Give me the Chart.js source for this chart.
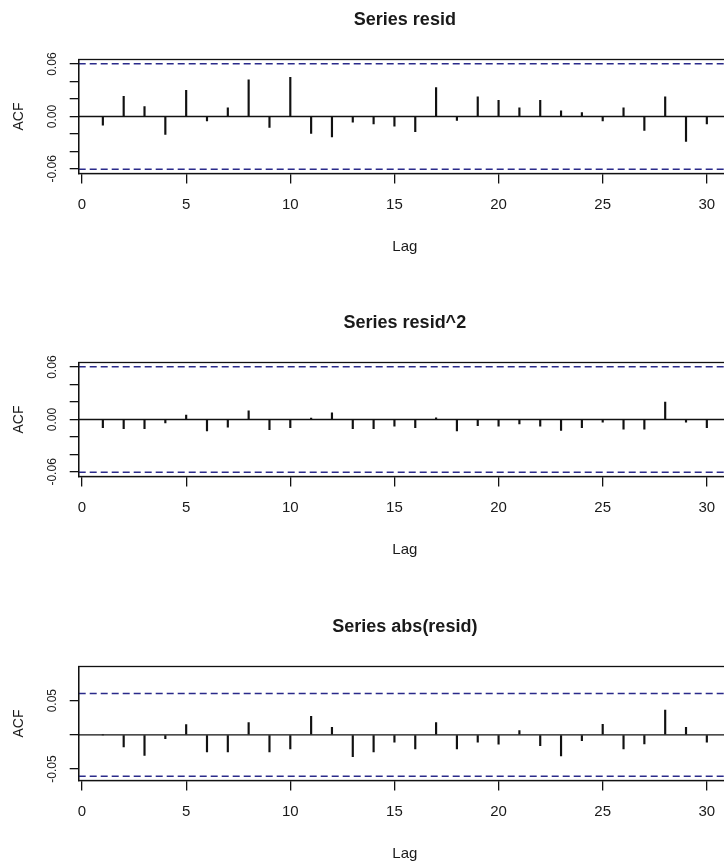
<!DOCTYPE html>
<html>
<head>
<meta charset="utf-8">
<script src="https://cdn.jsdelivr.net/npm/chart.js@4.4.1/dist/chart.umd.min.js"></script>
<style>
  html, body { margin: 0; padding: 0; background: #fff; width: 724px; height: 864px; overflow: hidden; }
  .panel { position: absolute; left: 0; }
</style>
</head>
<body>
<div class="panel" style="top:0px"><canvas id="acfResid" width="740" height="257"></canvas></div>
<div class="panel" style="top:303px"><canvas id="acfResidSq" width="740" height="257"></canvas></div>
<div class="panel" style="top:607px"><canvas id="acfAbsResid" width="740" height="257"></canvas></div>
<script>
// lags 1..30 (como TSA::acf, sin el lag 0)
const lags = [1, 2, 3, 4, 5, 6, 7, 8, 9, 10, 11, 12, 13, 14, 15,
              16, 17, 18, 19, 20, 21, 22, 23, 24, 25, 26, 27, 28, 29, 30];

const acfResid = [-0.010, 0.023, 0.0115, -0.0205, 0.030, -0.005, 0.010, 0.042, -0.0125, 0.045,
                  -0.0195, -0.0235, -0.0065, -0.0085, -0.011, -0.0175, 0.033, -0.0045, 0.0225, 0.0185,
                  0.010, 0.0185, 0.0065, 0.0045, -0.005, 0.010, -0.016, 0.0225, -0.0285, -0.0085];

const acfResidSq = [-0.0094, -0.0106, -0.0106, -0.004, 0.005, -0.013, -0.0087, 0.0098, -0.0117, -0.0094,
                    0.0015, 0.0075, -0.0106, -0.0106, -0.0075, -0.0094, 0.002, -0.013, -0.007, -0.0075,
                    -0.005, -0.0075, -0.0125, -0.0094, -0.003, -0.011, -0.011, 0.020, -0.003, -0.0094];

const acfAbsResid = [0, -0.0176, -0.030, -0.0054, 0.0151, -0.025, -0.025, 0.018, -0.025, -0.0205,
                     0.0273, 0.0112, -0.0317, -0.025, -0.0107, -0.0205, 0.018, -0.0205, -0.0107, -0.0137,
                     0.0063, -0.0156, -0.0307, -0.0083, 0.0156, -0.0205, -0.0132, 0.0361, 0.0112, -0.0107];

// banda de confianza 1.96/sqrt(n)
const ciBound = 0.0605;

const xTicks = [0, 5, 10, 15, 20, 25, 30];
const xRange = [-0.16, 31.16];

const yTicksSmall = [-0.06, -0.04, -0.02, 0, 0.02, 0.04, 0.06];
const yLabelsSmall = [-0.06, 0, 0.06];
const yTicksAbs = [-0.05, 0, 0.05];
const yLabelsAbs = [-0.05, 0.05];

const narrow = "'Liberation Sans Narrow', 'Arial Narrow', 'Liberation Sans', sans-serif";
const ink = '#1a1a1a';

// marco completo alrededor del área del gráfico (box() de R)
const boxPlugin = {
    id: 'rBox',
    afterDatasetsDraw(chart) {
        const { ctx, chartArea: a } = chart;
        ctx.save();
        ctx.strokeStyle = '#111';
        ctx.lineWidth = 1.3;
        ctx.strokeRect(a.left, a.top, a.right - a.left, a.bottom - a.top);
        ctx.restore();
    }
};

// etiquetas del eje y giradas, como en R
const yLabelPlugin = {
    id: 'rYLabels',
    afterDraw(chart, args, opts) {
        const ctx = chart.ctx;
        const yScale = chart.scales.y;
        ctx.save();
        ctx.fillStyle = ink;
        ctx.font = '12px ' + narrow;
        ctx.textAlign = 'center';
        ctx.textBaseline = 'middle';
        opts.values.forEach(v => {
            ctx.save();
            ctx.translate(opts.x, yScale.getPixelForValue(v));
            ctx.rotate(-Math.PI / 2);
            ctx.fillText(v.toFixed(2), 0, 0);
            ctx.restore();
        });
        ctx.restore();
    }
};

function hLine(yValue) {
    return xRange.map(x => ({ x: x, y: yValue }));
}

function drawAcf(canvasId, titleText, values, yMin, yMax, yTicks, yLabels) {
    const ctx = document.getElementById(canvasId).getContext('2d');

    return new Chart(ctx, {
        type: 'bar',
        data: {
            datasets: [
                {
                    type: 'bar',
                    data: lags.map((l, i) => ({ x: l, y: values[i] })),
                    backgroundColor: '#111',
                    barThickness: 1.5,
                    order: 1
                },
                {
                    type: 'line',
                    data: hLine(0),
                    borderColor: '#111',
                    borderWidth: 1.3,
                    pointRadius: 0,
                    order: 2
                },
                {
                    type: 'line',
                    data: hLine(ciBound),
                    borderColor: '#2a2a8a',
                    borderWidth: 1.5,
                    borderDash: [7, 4],
                    pointRadius: 0,
                    order: 3
                },
                {
                    type: 'line',
                    data: hLine(-ciBound),
                    borderColor: '#2a2a8a',
                    borderWidth: 1.5,
                    borderDash: [7, 4],
                    pointRadius: 0,
                    order: 3
                }
            ]
        },
        options: {
            responsive: false,
            animation: false,
            devicePixelRatio: 1,
            layout: { padding: { left: 0, right: 9, top: 0, bottom: 0 } },
            plugins: {
                legend: { display: false },
                tooltip: { enabled: false },
                title: {
                    display: true,
                    fullSize: false,
                    text: titleText,
                    color: ink,
                    font: { family: narrow, size: 18, weight: 'bold' },
                    padding: { top: 9, bottom: 28.9 }
                },
                rYLabels: { values: yLabels, x: 53 }
            },
            scales: {
                x: {
                    type: 'linear',
                    min: xRange[0],
                    max: xRange[1],
                    offset: false,
                    afterBuildTicks: s => { s.ticks = xTicks.map(v => ({ value: v })); },
                    afterFit: s => { s.height = 83.5; },
                    grid: { drawOnChartArea: false, drawTicks: true, tickLength: 10, color: '#111', lineWidth: 1.3, offset: false },
                    border: { display: true, color: '#111', width: 1.3 },
                    ticks: {
                        autoSkip: false,
                        maxRotation: 0,
                        padding: 12.5,
                        color: ink,
                        font: { family: narrow, size: 15 },
                        callback: v => String(v)
                    },
                    title: {
                        display: true,
                        text: 'Lag',
                        color: ink,
                        font: { family: narrow, size: 15 },
                        padding: { top: 0, bottom: 1 }
                    }
                },
                y: {
                    type: 'linear',
                    min: yMin,
                    max: yMax,
                    afterBuildTicks: s => { s.ticks = yTicks.map(v => ({ value: v })); },
                    afterFit: s => { s.width = 78.7; },
                    grid: { drawOnChartArea: false, drawTicks: true, tickLength: 9, color: '#111', lineWidth: 1.3 },
                    border: { display: true, color: '#111', width: 1.3 },
                    ticks: { display: false },
                    title: {
                        display: true,
                        text: 'ACF',
                        color: ink,
                        font: { family: "'Liberation Sans', Arial, sans-serif", size: 14 },
                        padding: { top: 10.6, bottom: 0 }
                    }
                }
            }
        },
        plugins: [boxPlugin, yLabelPlugin]
    });
}

drawAcf('acfResid', 'Series resid', acfResid, -0.0653, 0.0653, yTicksSmall, yLabelsSmall);
drawAcf('acfResidSq', 'Series resid^2', acfResidSq, -0.0653, 0.0653, yTicksSmall, yLabelsSmall);
drawAcf('acfAbsResid', 'Series abs(resid)', acfAbsResid, -0.0667, 0.100, yTicksAbs, yLabelsAbs);
</script>
</body>
</html>
